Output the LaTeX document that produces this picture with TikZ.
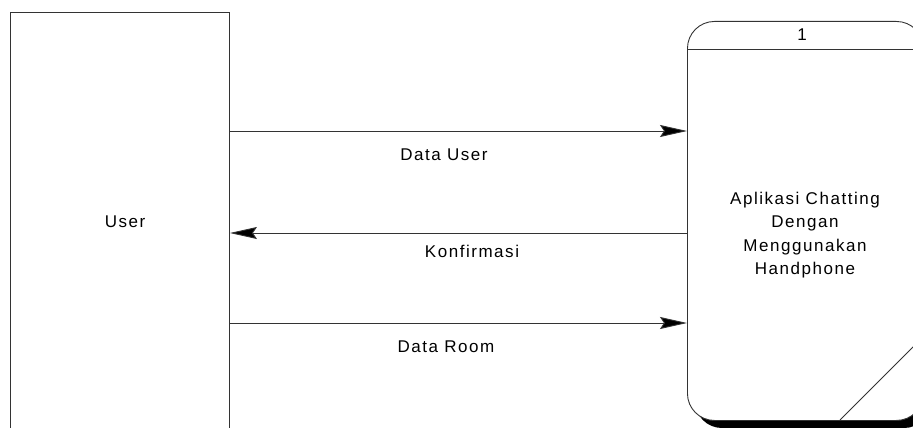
\documentclass[tikz,border=0pt]{standalone}
\usepackage{fontspec}
\setmainfont{Liberation Sans}[LetterSpace=9]
\usetikzlibrary{arrows.meta}
\begin{document}
\begin{tikzpicture}[x=1pt,y=-1pt,
  line/.style={draw=black!80,line width=0.9pt},
  arr/.style={line,-{Stealth[length=27pt,width=12pt,inset=4pt,fill=black]}},
  lbl/.style={font=\fontsize{17}{20}\selectfont,inner sep=0pt},
  txt/.style={font=\fontsize{17}{23.5}\selectfont,align=center,inner sep=0pt}]
\useasboundingbox (0,0) rectangle (913,428);
\clip (0,0) rectangle (913,428);
\fill[white] (0,0) rectangle (913,428);
% external entity
\node[line,rectangle,minimum width=219pt,minimum height=420pt,anchor=north west,inner sep=0pt] (user) at (10,12) {};
\node[lbl] (userlbl) at (125,222) {User};
% process with shadow
\fill[black,rounded corners=27pt] (695,29) rectangle (931,428);
\node[line,fill=white,rectangle,rounded corners=27pt,minimum width=236pt,minimum height=399pt,anchor=north west,inner sep=0pt] (proc) at (687,21) {};
\coordinate (hl) at (687,49);
\coordinate (hr) at (923,49);
\draw[line] (hl) -- (hr);
\node[lbl] (pnum) at (802,35) {1};
\coordinate (d1) at (840,420);
\coordinate (d2) at (916,344);
\draw[line] (d1) -- (d2);
\node[txt] (ptext) at (805,235) {Aplikasi Chatting\\Dengan\\Menggunakan\\Handphone};
% flows
\draw[arr] (user.east |- 0,131) -- (proc.west |- 0,131);
\node[lbl] (f1) at (444,155) {Data User};
\draw[arr] (proc.west |- 0,233) -- (user.east |- 0,233);
\node[lbl] (f2) at (472,251) {Konfirmasi};
\draw[arr] (user.east |- 0,323) -- (proc.west |- 0,323);
\node[lbl] (f3) at (446,347) {Data Room};
\end{tikzpicture}
\end{document}
